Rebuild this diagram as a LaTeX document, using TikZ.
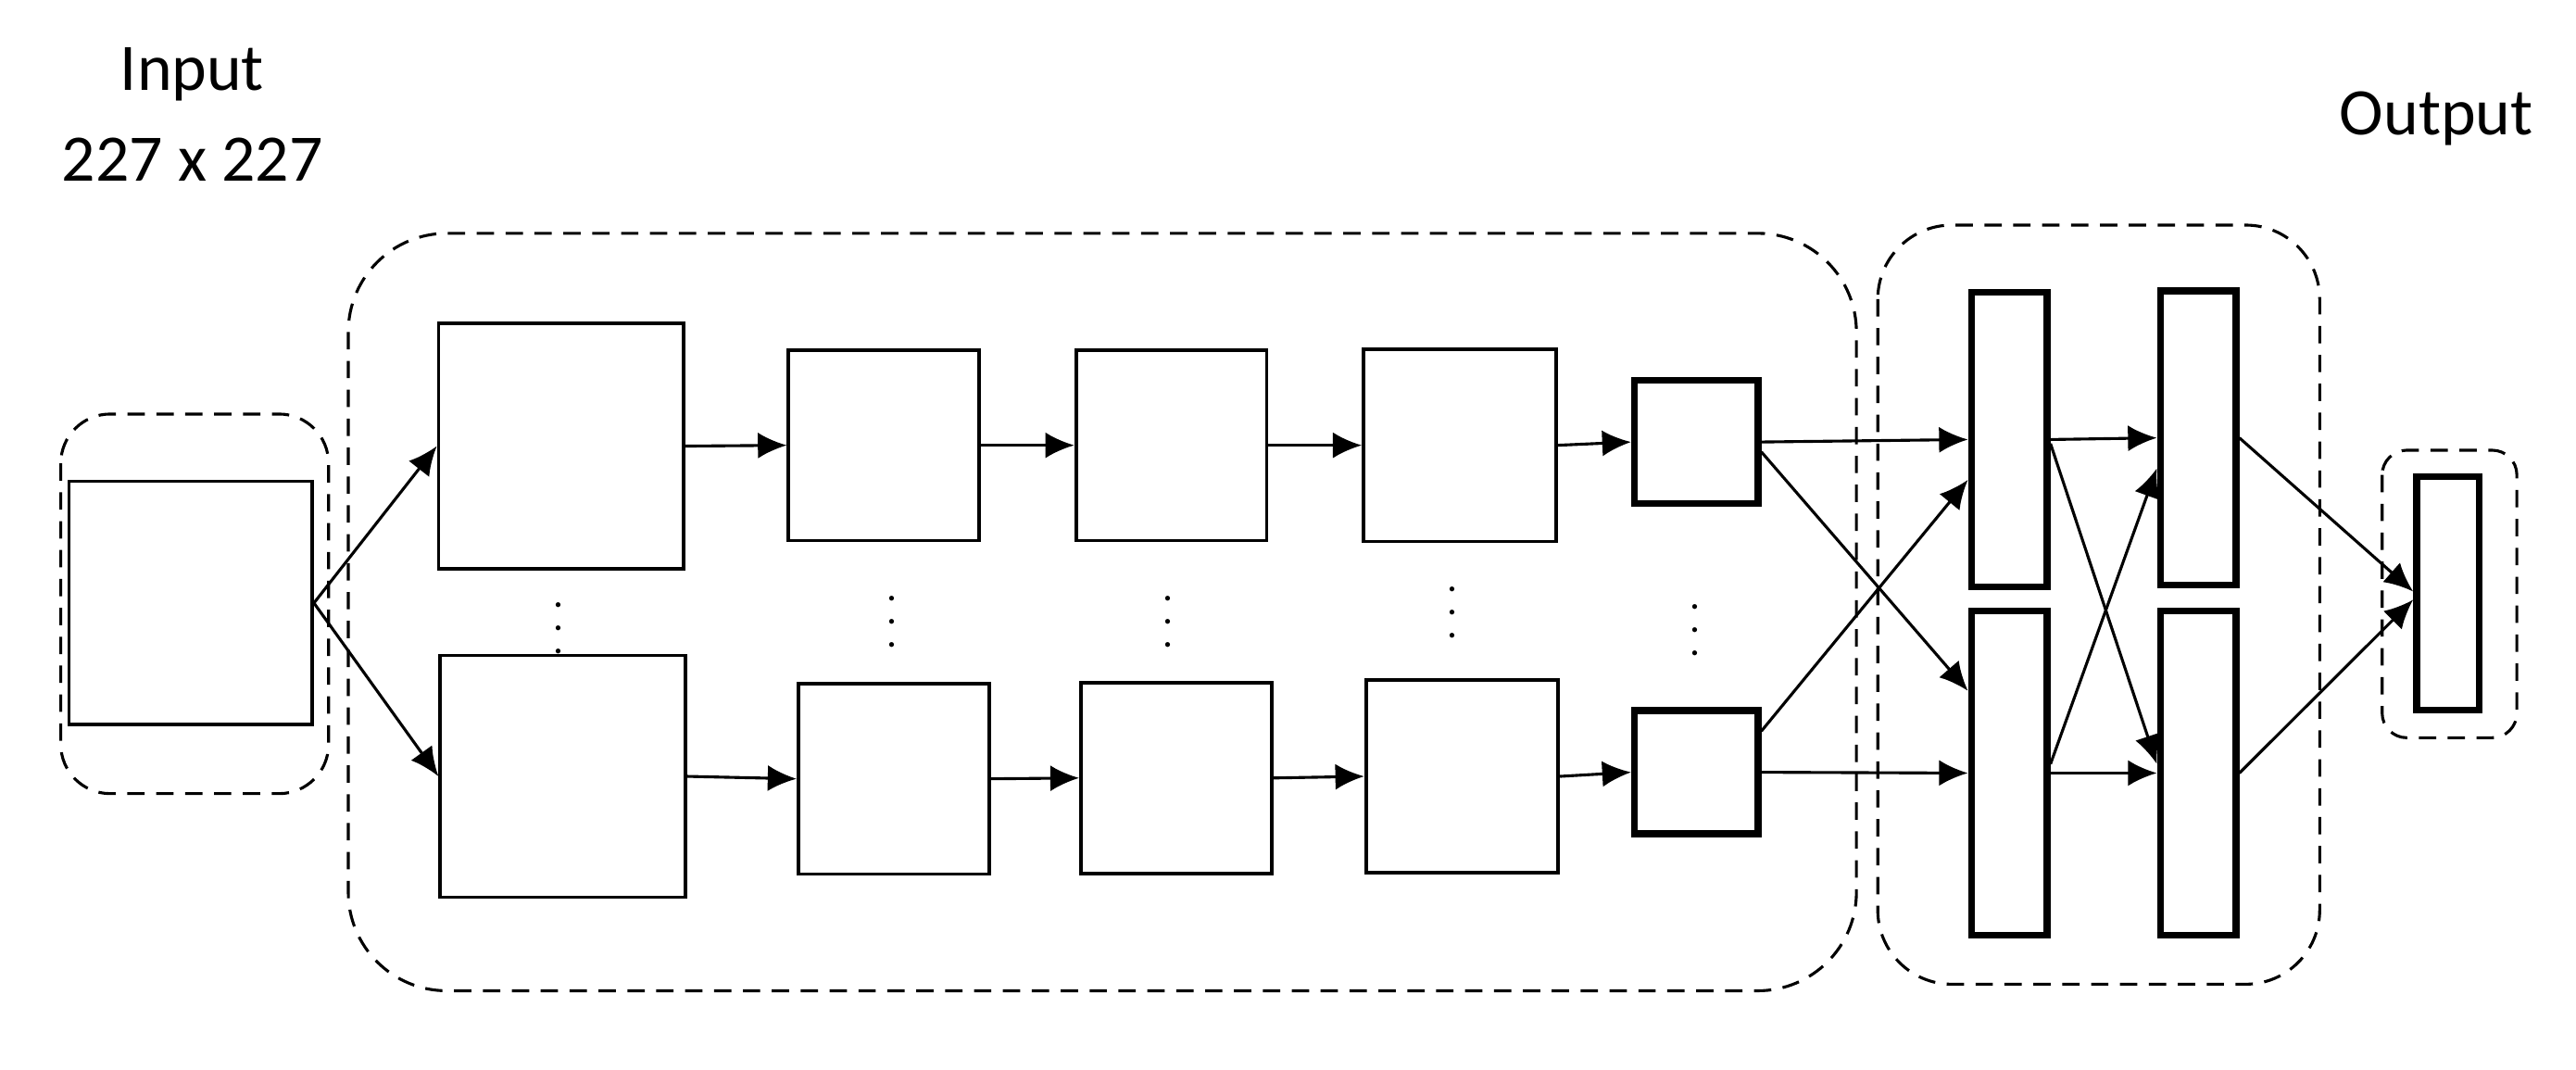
\documentclass[tikz,border=0pt]{standalone}
\usepackage{fontspec}
\setmainfont{Carlito}
\usetikzlibrary{arrows.meta}
\begin{document}
\begin{tikzpicture}[x=0.01cm,y=-0.01cm,
  box/.style={draw,line width=0.6pt,inner sep=0pt,minimum width=#1},
  sq/.style={box=#1,minimum height=#1},
  thk/.style={line width=1.2pt},
  grp/.style={draw,line width=0.5pt,dash pattern=on 3pt off 2pt},
  arr/.style={-{Latex[length=5pt,width=4.5pt]},line width=0.5pt},
  lbl/.style={font=\fontsize{11.5}{14}\selectfont,align=center,inner sep=0pt},
  dots/.style={font=\scriptsize,inner sep=0pt}]
\useasboundingbox (0,0) rectangle (1568,651);
% labels
\node[lbl] (tin) at (117,45) {Input};
\node[lbl] (tsz) at (117,97) {227 x 227};
\node[lbl] (tout) at (1483,72) {Output};
% containers
\draw[grp,rounded corners=0.3cm] (37,252) rectangle (200,483);
\draw[grp,rounded corners=0.6cm] (212,142) rectangle (1130,603);
\draw[grp,rounded corners=0.45cm] (1143,137) rectangle (1412,599);
\draw[grp,rounded corners=0.15cm] (1450,274) rectangle (1532,449);
% nodes
\node[sq=1.48cm] (in) at (116,367) {};
\node[sq=1.49cm] (L1t) at (341.5,271.5) {};
\node[box=1.49cm,minimum height=1.47cm] (L1b) at (342.5,472.5) {};
\node[sq=1.16cm] (C2t) at (538,271) {};
\node[sq=1.16cm] (C2b) at (544,474) {};
\node[sq=1.16cm] (C3t) at (713,271) {};
\node[sq=1.16cm] (C3b) at (716,473.5) {};
\node[sq=1.17cm] (C4t) at (888.5,271) {};
\node[sq=1.17cm] (C4b) at (890,472.5) {};
\node[sq=0.75cm,thk] (C5t) at (1032.5,269) {};
\node[sq=0.75cm,thk] (C5b) at (1032.5,470) {};
\node[box=0.46cm,minimum height=1.79cm,thk] (F1t) at (1223,267.5) {};
\node[box=0.46cm,minimum height=1.97cm,thk] (F1b) at (1223,470.5) {};
\node[box=0.46cm,minimum height=1.79cm,thk] (F2t) at (1338,266.5) {};
\node[box=0.46cm,minimum height=1.97cm,thk] (F2b) at (1338,470.5) {};
\node[box=0.38cm,minimum height=1.42cm,thk] (O) at (1490,361) {};
% dots
\node[dots] (d1) at (340,372) {$\vdots$};
\node[dots] (d2) at (543,368) {$\vdots$};
\node[dots] (d3) at (711,368) {$\vdots$};
\node[dots] (d4) at (884,362) {$\vdots$};
\node[dots] (d5) at (1032,373) {$\vdots$};
% arrows
\draw[arr] (in.east) -- (L1t.west);
\draw[arr] (in.east) -- (L1b.west);
\draw[arr] (L1t.east) -- (C2t.west);
\draw[arr] (L1b.east) -- (C2b.west);
\draw[arr] (C2t.east) -- (C3t.west);
\draw[arr] (C2b.east) -- (C3b.west);
\draw[arr] (C3t.east) -- (C4t.west);
\draw[arr] (C3b.east) -- (C4b.west);
\draw[arr] (C4t.east) -- (C5t.west);
\draw[arr] (C4b.east) -- (C5b.west);
\draw[arr] (C5t.east) -- (F1t.west);
\draw[arr] ([yshift=-0.06cm]C5t.east) -- ([yshift=0.5cm]F1b.west);
\draw[arr] ([yshift=0.25cm]C5b.east) -- ([yshift=-0.245cm]F1t.west);
\draw[arr] (C5b.east) -- (F1b.west);
\draw[arr] (F1t.east) -- (F2t.west);
\draw[arr] ([yshift=-0.025cm]F1t.east) -- ([yshift=0.055cm]F2b.west);
\draw[arr] ([yshift=0.055cm]F1b.east) -- ([yshift=-0.185cm]F2t.west);
\draw[arr] (F1b.east) -- (F2b.west);
\draw[arr] (F2t.east) -- ([yshift=0.01cm]O.west);
\draw[arr] (F2b.east) -- ([yshift=-0.04cm]O.west);
\end{tikzpicture}
\end{document}
